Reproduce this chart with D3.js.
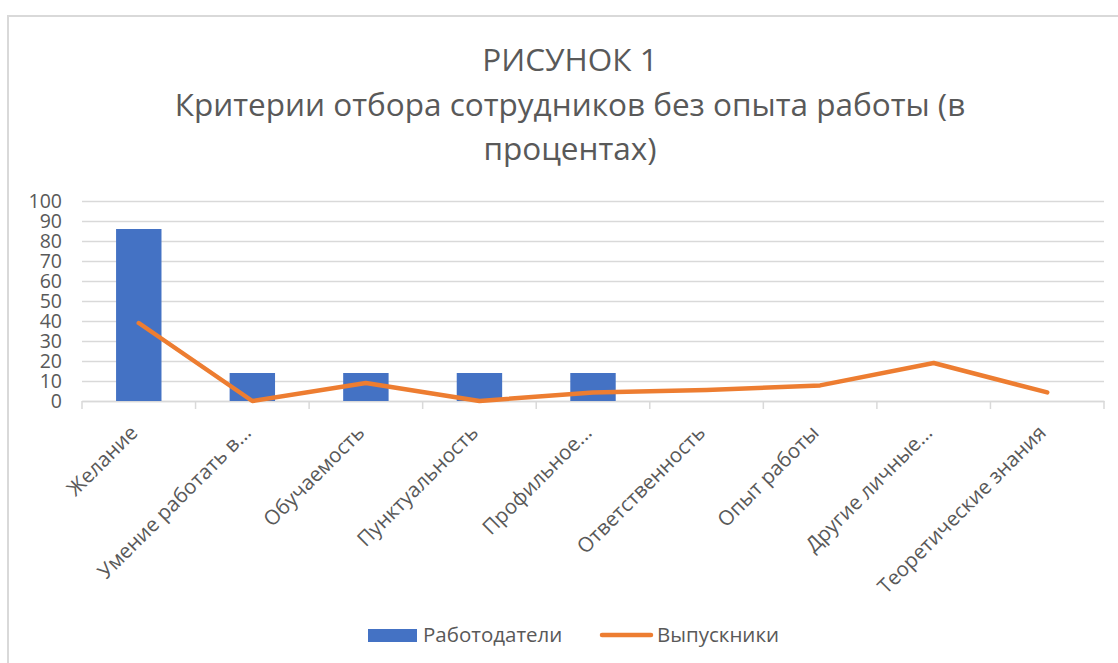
<!DOCTYPE html>
<html><head><meta charset="utf-8">
<script src="https://cdn.jsdelivr.net/npm/d3@7"></script>
<style>html,body{margin:0;padding:0;background:#fff;}svg{display:block;}</style>
</head><body>
<svg id="chart" width="1118" height="663"></svg>
<script>
const categories = ["Желание", "Умение работать в...", "Обучаемость", "Пунктуальность", "Профильное...", "Ответственность", "Опыт работы", "Другие личные...", "Теоретические знания"];
const employers = [86, 14, 14, 14, 14, null, null, null, null];
const graduates = [39, 0, 9, 0, 4.3, 5.5, 7.8, 19, 4.3];
const yTicks = [0, 10, 20, 30, 40, 50, 60, 70, 80, 90, 100];
const titleLines = ["РИСУНОК 1", "Критерии отбора сотрудников без опыта работы (в", "процентах)"];
const seriesNames = ["Работодатели", "Выпускники"];

(function () {
const font = "'Open Sans', sans-serif";
const textColor = "#595959";
const gridColor = "#d9d9d9";
const blue = "#4472C4", orange = "#ED7D31";

const svg = d3.select("#chart");
svg.append("rect").attr("x", 8).attr("y", 16).attr("width", 1130).attr("height", 670)
  .attr("fill", "#fff").attr("stroke", "#d9d9d9").attr("stroke-width", 2);

const pl = 82, pr = 1104, pt = 201, pb = 401;
const x = d3.scaleBand().domain(categories).range([pl, pr]).paddingInner(0).paddingOuter(0);
const y = d3.scaleLinear().domain([0, 100]).range([pb, pt]);

// title
svg.append("g").selectAll("text").data(titleLines).join("text")
  .attr("x", 570).attr("y", (d, i) => 71 + i * 44.5)
  .attr("text-anchor", "middle").attr("font-family", font).attr("font-size", 31.5)
  .attr("fill", textColor).text(d => d);

// grid
const yAxis = d3.axisLeft(y).tickValues(yTicks).tickSize(-(pr - pl)).tickPadding(20);
const gy = svg.append("g").attr("transform", `translate(${pl},0)`).call(yAxis);
gy.select(".domain").remove();
gy.selectAll(".tick line").attr("stroke", gridColor).attr("stroke-width", 1.5);
gy.selectAll(".tick text").attr("font-family", font).attr("font-size", 19.5).attr("fill", textColor)
  .attr("x", -20).attr("dy", "0.34em");

// x axis
const xAxis = d3.axisBottom(x).tickSize(0).tickFormat(d => d);
const gx = svg.append("g").attr("transform", `translate(0,${pb})`).call(xAxis);
gx.select(".domain").attr("stroke", gridColor).attr("stroke-width", 1.5);
gx.selectAll(".tick text").attr("font-family", font).attr("font-size", 20.5).attr("fill", textColor)
  .attr("text-anchor", "end").attr("dy", 0)
  .attr("transform", "translate(0,33) rotate(-45)").attr("y", 0).attr("x", 0);
const bounds = categories.map(c => x(c)).concat([x(categories[categories.length - 1]) + x.bandwidth()]);
gx.selectAll("line.bound").data(bounds).join("line").attr("class", "bound")
  .attr("x1", d => d).attr("x2", d => d).attr("y1", 0).attr("y2", 8)
  .attr("stroke", gridColor).attr("stroke-width", 1.5);

// bars
const barW = x.bandwidth() / 2.5;
svg.append("g").selectAll("rect").data(categories.map((c, i) => ({c, v: employers[i]})).filter(d => d.v != null))
  .join("rect")
  .attr("x", d => x(d.c) + x.bandwidth() / 2 - barW / 2)
  .attr("width", barW)
  .attr("y", d => y(d.v)).attr("height", d => y(0) - y(d.v))
  .attr("fill", blue);

// line
const line = d3.line().x((d, i) => x(categories[i]) + x.bandwidth() / 2).y(d => y(d));
svg.append("path").datum(graduates).attr("d", line).attr("fill", "none")
  .attr("stroke", orange).attr("stroke-width", 4.5).attr("stroke-linejoin", "round").attr("stroke-linecap", "round");

// legend
const lg = svg.append("g");
lg.append("rect").attr("x", 368).attr("y", 629).attr("width", 49).attr("height", 13).attr("fill", blue);
lg.append("text").attr("x", 423).attr("y", 642).attr("font-family", font).attr("font-size", 20.5).attr("fill", textColor).text(seriesNames[0]);
lg.append("line").attr("x1", 602).attr("x2", 651).attr("y1", 635).attr("y2", 635)
  .attr("stroke", orange).attr("stroke-width", 4.5).attr("stroke-linecap", "round");
lg.append("text").attr("x", 657).attr("y", 642).attr("font-family", font).attr("font-size", 20.5).attr("fill", textColor).text(seriesNames[1]);
})();
</script>
</body></html>
